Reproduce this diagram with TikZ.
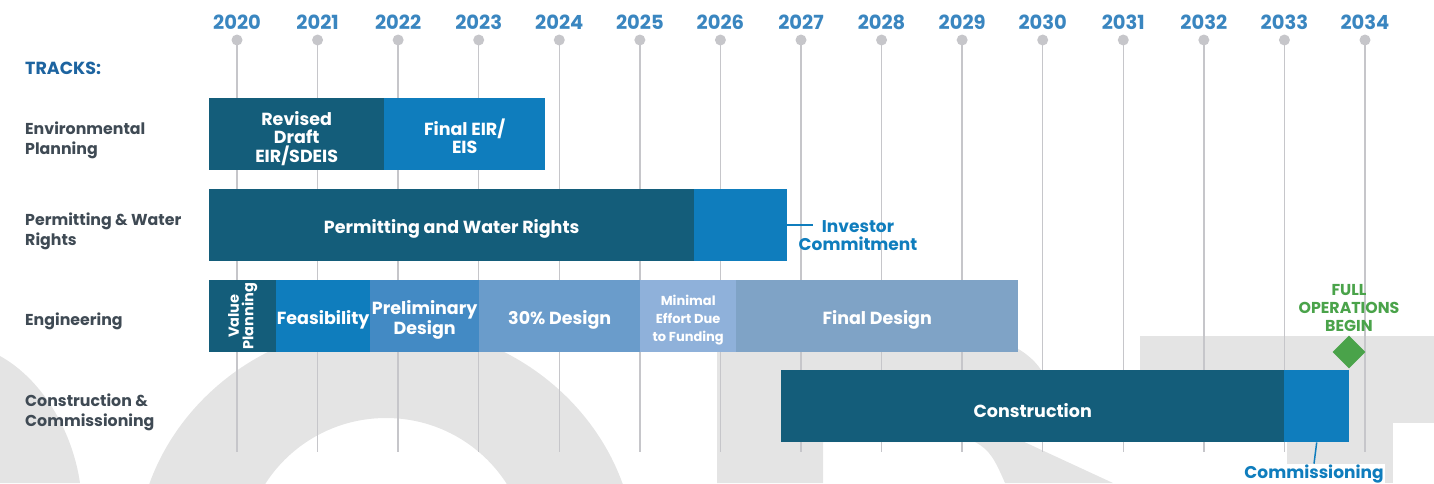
\documentclass[tikz,border=0pt]{standalone}
\usepackage{fontspec}
\setmainfont{Poppins}
\usetikzlibrary{shapes.geometric, positioning}
\definecolor{darkteal}{HTML}{145D7A}
\definecolor{midblue}{HTML}{0F7DBD}
\definecolor{prelblue}{HTML}{438AC4}
\definecolor{desblue}{HTML}{6A9CCB}
\definecolor{minblue}{HTML}{8FB1DA}
\definecolor{finblue}{HTML}{7FA3C6}
\definecolor{yearblue}{HTML}{3A86C0}
\definecolor{tracksblue}{HTML}{1D64A0}
\definecolor{trackgray}{HTML}{3F4A54}
\definecolor{ghost}{HTML}{E4E4E4}
\definecolor{tickgray}{HTML}{C6C6CA}
\definecolor{opsgreen}{HTML}{4AA34A}
\tikzset{
x=1pt, y=-1pt, % one unit is one pixel of the layout
bar/.style={anchor=north west, minimum height=72pt, inner sep=0pt}, % coloured blocks
bartext/.style={text=white, align=center, yshift=-4pt, font=\bfseries\fontsize{17.5}{18.5}\selectfont}, % their labels
track/.style={anchor=west, inner sep=0pt, align=left, text=trackgray, font=\bfseries\fontsize{15.8}{20}\selectfont}, % row titles
year/.style={text=yearblue, font=\bfseries\fontsize{19.5}{19.5}\selectfont},
}

\begin{document}
\begin{tikzpicture}
  \useasboundingbox (0,0) rectangle (1434,483);

  % background letters
  \fill[ghost] (0,356) .. controls (40,378) and (72,428) .. (80,483) -- (0,483) -- cycle;
  \fill[ghost, even odd rule] (386,560) ellipse [x radius=250, y radius=236]
                              (386,560) ellipse [x radius=143, y radius=142];
  \fill[ghost] (717,483) -- (717,330) -- (930,330) .. controls (1010,330) and (1050,360) .. (1050,400)
        .. controls (1050,420) and (1040,432) .. (1020,440) -- (1113,483) -- (1005,483)
        .. controls (995,460) and (990,450) .. (975,442) -- (823,442) -- (823,483) -- cycle;
  \fill[ghost] (1140,336) rectangle (1434,423);
  \fill[ghost] (1287,423) rectangle (1393,483);

  % years
  \foreach \y [count=\i from 0] in {2020,...,2034} {
    \node[year] (y\y) at ({237+80.57*\i},22) {\y};
    \draw[tickgray, line width=1.5pt] ({237+80.57*\i},40) -- ({237+80.57*\i},452);
    \fill[tickgray] ({237+80.57*\i},40) circle (5.5);
  }

  \node[anchor=west, inner sep=0pt, text=tracksblue, font=\bfseries\fontsize{17.5}{17.5}\selectfont] (tracks) at (25,68) {TRACKS:};
  \node[track] (env) at (25,140) {Environmental\\Planning};
  \node[track] (pwr) at (25,231) {Permitting \& Water\\Rights};
  \node[track] (eng) at (25,321) {Engineering};
  \node[track] (cc) at (25,412) {Construction \&\\Commissioning};

  % environmental planning
  \node[bar, fill=darkteal, minimum width=175pt, label={[bartext]center:{Revised\\Draft\\EIR/SDEIS}}] (rdeir) at (209,98) {};
  \node[bar, fill=midblue, minimum width=161pt, label={[bartext, yshift=2pt]center:{Final EIR/\\EIS}}] (feir) at (384,98) {};

  % permitting
  \node[bar, fill=darkteal, minimum width=485pt, label={[bartext]center:Permitting and Water Rights}] (pwr1) at (209,189) {};
  \node[bar, fill=midblue, minimum width=93pt] (pwr2) at (694,189) {};
  \node[align=center, text=midblue, font=\bfseries\fontsize{17}{18}\selectfont] (inv) at (858,236) {Investor\\Commitment};
  \draw[midblue, line width=1.5pt] (pwr2.east) -- ++(26,0);

  % engineering
  \node[bar, fill=darkteal, minimum width=67pt] (vp) at (209,280) {};
  \node[rotate=90, text=white, align=center, font=\bfseries\fontsize{14.5}{14.5}\selectfont] (vpl) at (vp.center) {Value\\Planning};
  \node[bar, fill=midblue, minimum width=94pt, label={[bartext]center:Feasibility}] (feas) at (276,280) {};
  \node[bar, fill=prelblue, minimum width=109pt, label={[bartext, font=\bfseries\fontsize{17.5}{17}\selectfont]center:{Preliminary\\Design}}] (prel) at (370,280) {};
  \node[bar, fill=desblue, minimum width=161pt, label={[bartext]center:30\% Design}] (des30) at (479,280) {};
  \node[bar, fill=minblue, minimum width=96pt, label={[bartext, font=\bfseries\fontsize{13}{18}\selectfont]center:{Minimal\\Effort Due\\to Funding}}] (minf) at (640,280) {};
  \node[bar, fill=finblue, minimum width=282pt, label={[bartext]center:Final Design}] (fdes) at (736,280) {};

  % construction
  \node[bar, fill=darkteal, minimum width=503pt, label={[bartext]center:Construction}] (cons) at (781,370) {};
  \node[bar, fill=midblue, minimum width=65pt] (comm) at (1284,370) {};
  \node[fill=white, inner sep=1pt, text=midblue, font=\bfseries\fontsize{17}{17}\selectfont] (comml) at (1314,474) {Commissioning};
  \draw[midblue, line width=1.5pt] (comm.south) -- (comml.north);

  % full operations
  \node[diamond, fill=opsgreen, minimum size=33pt, inner sep=0pt] (ops) at (1349,352) {};
  \node[above=0pt of ops, align=center, text=opsgreen, font=\bfseries\fontsize{15.8}{18}\selectfont] (opsl) {FULL\\OPERATIONS\\BEGIN};
\end{tikzpicture}
\end{document}
